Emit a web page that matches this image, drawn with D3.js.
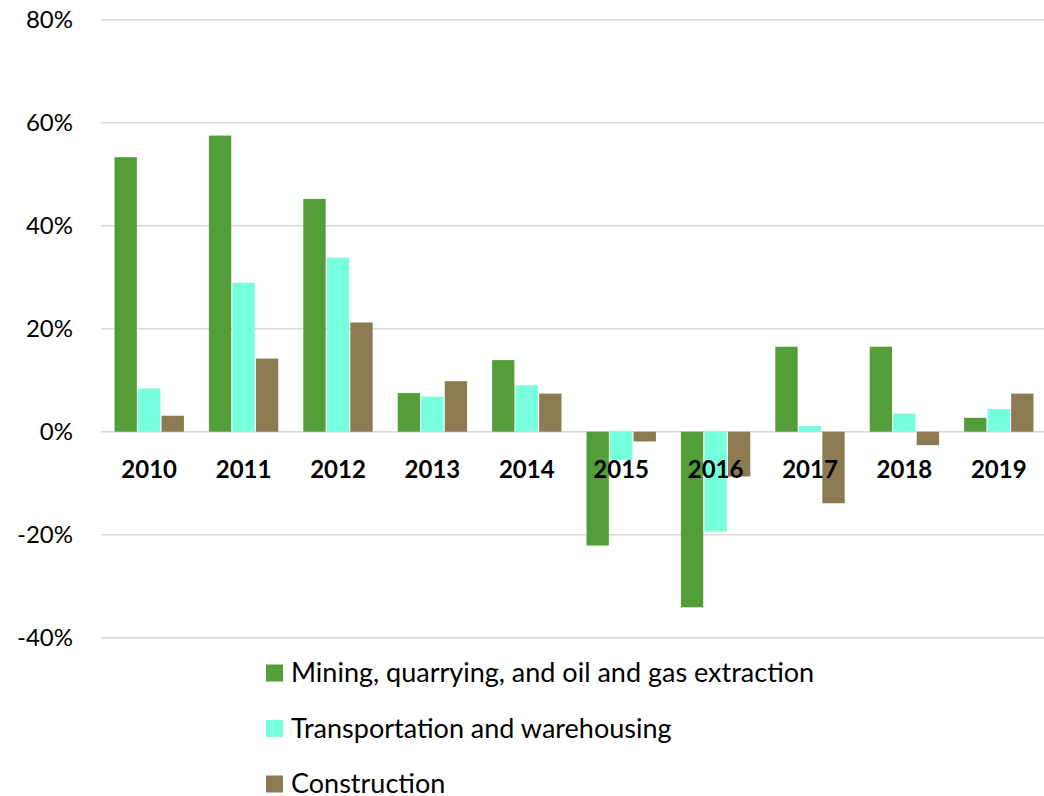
<!DOCTYPE html>
<html>
<head>
<meta charset="utf-8">
<script src="https://cdn.jsdelivr.net/npm/d3@7"></script>
<style>
  body { margin: 0; background: #fff; }
  svg { font-family: Lato, "Open Sans", sans-serif; }
</style>
</head>
<body>
<div id="chart"></div>
<script>
// values in percent
const years = ["2010", "2011", "2012", "2013", "2014", "2015", "2016", "2017", "2018", "2019"];
const seriesNames = ["Mining, quarrying, and oil and gas extraction", "Transportation and warehousing", "Construction"];
const mining = [53.3, 57.5, 45.2, 7.5, 13.9, -22.1, -34.1, 16.5, 16.5, 2.7];
const transport = [8.4, 28.9, 33.8, 6.8, 9.0, -5.5, -19.4, 1.1, 3.5, 4.4];
const construction = [3.1, 14.2, 21.2, 9.8, 7.4, -1.9, -8.7, -13.9, -2.6, 7.4];
const yTicks = [-40, -20, 0, 20, 40, 60, 80];
const colors = ["#549e39", "#75ffdc", "#8b7a52"];

const seriesValues = [mining, transport, construction];
const width = 1044, height = 796;

const svg = d3.select("#chart")
    .append("svg")
    .attr("width", width)
    .attr("height", height);

const x = d3.scaleBand()
    .domain(years)
    .range([102, 1046])
    .paddingInner(0.24)
    .paddingOuter(0.12);

const x1 = d3.scaleBand()
    .domain(d3.range(seriesNames.length))
    .range([0, x.bandwidth()])
    .padding(0.05);

const y = d3.scaleLinear()
    .domain([-40, 80])
    .range([637.7, 19.7]);

// gridlines
svg.append("g")
    .selectAll("line")
    .data(yTicks)
    .enter()
    .append("line")
    .attr("x1", 101)
    .attr("x2", width)
    .attr("y1", d => y(d))
    .attr("y2", d => y(d))
    .attr("stroke", "#d9d9d9")
    .attr("stroke-width", 1.5);

// y labels
svg.append("g")
    .selectAll("text")
    .data(yTicks)
    .enter()
    .append("text")
    .attr("x", 73)
    .attr("y", d => y(d))
    .attr("dy", "0.35em")
    .attr("text-anchor", "end")
    .style("font-size", "24px")
    .style("fill", "#000")
    .text(d => d + "%");

// bars
const groups = svg.append("g")
    .selectAll("g")
    .data(years)
    .enter()
    .append("g")
    .attr("transform", d => `translate(${x(d)},0)`);

groups.selectAll("rect")
    .data((yr, i) => seriesValues.map((vals, s) => ({ s: s, v: vals[i] })))
    .enter()
    .append("rect")
    .attr("x", d => x1(d.s))
    .attr("width", x1.bandwidth())
    .attr("y", d => y(Math.max(0, d.v)))
    .attr("height", d => Math.abs(y(d.v) - y(0)))
    .attr("fill", d => colors[d.s]);

// category labels, sitting over the bars
svg.append("g")
    .selectAll("text")
    .data(years)
    .enter()
    .append("text")
    .attr("x", d => x(d) + x.bandwidth() / 2)
    .attr("y", 470)
    .attr("dy", "0.35em")
    .attr("text-anchor", "middle")
    .style("font-size", "24px")
    .style("font-weight", "bold")
    .style("fill", "#000")
    .text(d => d);

// legend
const legend = svg.append("g")
    .selectAll("g")
    .data(seriesNames)
    .enter()
    .append("g")
    .attr("transform", (d, i) => `translate(266,${673 + i * 55.5})`);

legend.append("rect")
    .attr("x", 0)
    .attr("y", -8.5)
    .attr("width", 17)
    .attr("height", 17)
    .attr("fill", (d, i) => colors[i]);

legend.append("text")
    .attr("x", 25)
    .attr("y", 0)
    .attr("dy", "0.35em")
    .style("font-size", "27px")
    .style("fill", "#000")
    .text(d => d);
</script>
</body>
</html>
